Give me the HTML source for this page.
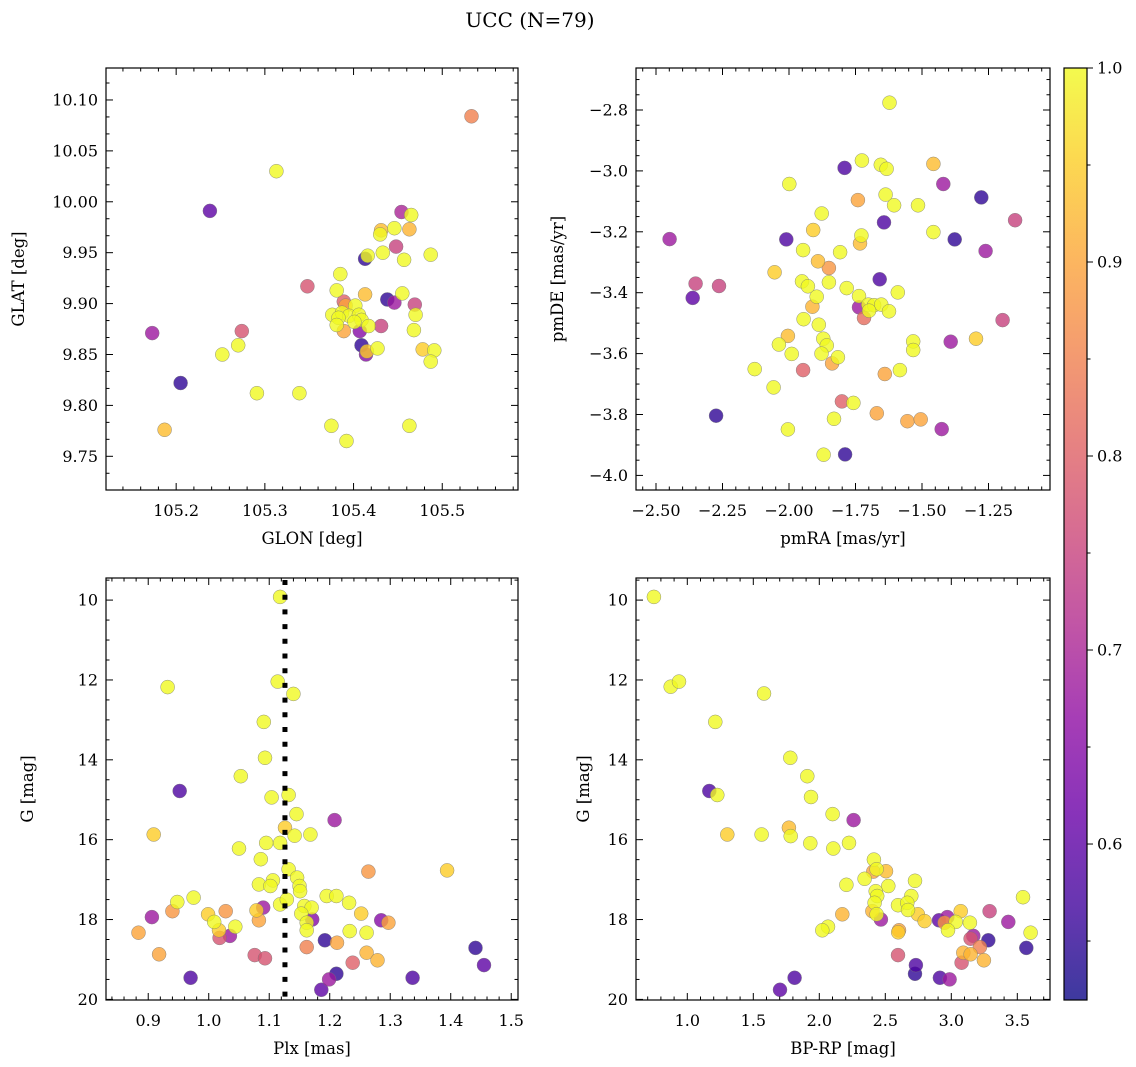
<!DOCTYPE html>
<html><head><meta charset="utf-8">
<style>
html,body{margin:0;padding:0;background:#fff;}
svg{display:block;font-family:"DejaVu Serif","Liberation Serif",serif;}
</style></head>
<body>
<svg id="fig" width="1136" height="1067" viewBox="0 0 1136 1067" xmlns="http://www.w3.org/2000/svg">
<defs>
<linearGradient id="plasma" x1="0" y1="1" x2="0" y2="0">
<stop offset="0" stop-color="#0d0887"/><stop offset="0.1" stop-color="#41049d"/><stop offset="0.2" stop-color="#6a00a8"/><stop offset="0.3" stop-color="#8f0da4"/><stop offset="0.4" stop-color="#b12a90"/><stop offset="0.5" stop-color="#cc4778"/><stop offset="0.6" stop-color="#e16462"/><stop offset="0.7" stop-color="#f2844b"/><stop offset="0.8" stop-color="#fca636"/><stop offset="0.9" stop-color="#fcce25"/><stop offset="1" stop-color="#f0f921"/>
</linearGradient>
</defs>
<text x="530" y="27" font-size="20" text-anchor="middle">UCC (N=79)</text>
</svg>
<script>
// ---- Panel 1: GLON / GLAT ----
const glon1=[105.533,105.313,105.238,105.454,105.465,105.431,105.430,105.446,105.463,105.448,105.413,105.416,105.433,105.457,105.487,105.385,105.348,105.381,105.413,105.438,105.446,105.455,105.469,105.470,105.468,105.431,105.389,105.391,105.402,105.376,105.387,105.395,105.406,105.383,105.409,105.417,105.381,105.389,105.407,105.401,105.409,105.414,105.415,105.427,105.173,105.274,105.270,105.252,105.478,105.491,105.487,105.205,105.291,105.339,105.187,105.375,105.463,105.392];
const glat1=[10.084,10.030,9.991,9.990,9.987,9.972,9.968,9.974,9.973,9.956,9.944,9.947,9.950,9.943,9.948,9.929,9.917,9.913,9.909,9.904,9.901,9.910,9.899,9.889,9.874,9.878,9.902,9.898,9.898,9.889,9.891,9.888,9.889,9.886,9.884,9.878,9.879,9.873,9.873,9.882,9.859,9.850,9.853,9.856,9.871,9.873,9.859,9.850,9.855,9.854,9.843,9.822,9.812,9.812,9.776,9.780,9.780,9.765];
const prob1=[.85,1,.6,.7,1,.93,1,1,.92,.75,.55,1,1,1,1,1,.78,1,.93,.55,.68,1,.75,1,1,.75,.8,.9,1,1,1,1,1,1,1,1,1,.9,.65,1,.55,.65,.95,1,.68,.78,1,1,.95,1,1,.55,1,1,.93,1,1,1];
// ---- Panel 2: pmRA / pmDE ----
const pmra2=[-1.622,-1.726,-1.655,-1.633,-1.791,-1.457,-1.999,-1.420,-1.277,-1.741,-1.637,-1.605,-1.515,-1.877,-1.643,-1.909,-1.728,-1.733,-1.457,-1.377,-1.150,-1.261,-2.449,-2.010,-1.947,-1.808,-1.891,-1.850,-2.054,-2.351,-2.263,-2.362,-1.659,-1.951,-1.929,-1.850,-1.783,-1.896,-1.591,-1.737,-1.737,-1.718,-1.702,-1.680,-1.653,-1.699,-1.624,-1.912,-1.945,-1.888,-1.197,-2.004,-2.038,-1.871,-1.858,-1.878,-1.990,-1.816,-1.838,-1.533,-1.533,-1.392,-1.297,-2.129,-1.947,-1.640,-1.583,-2.058,-1.801,-1.758,-1.670,-1.831,-1.555,-1.505,-1.426,-2.274,-2.004,-1.870,-1.789];
const pmde2=[-2.776,-2.966,-2.980,-2.993,-2.990,-2.977,-3.043,-3.043,-3.087,-3.096,-3.078,-3.113,-3.113,-3.140,-3.169,-3.194,-3.212,-3.238,-3.201,-3.225,-3.162,-3.263,-3.224,-3.225,-3.260,-3.267,-3.297,-3.319,-3.333,-3.370,-3.378,-3.417,-3.356,-3.363,-3.379,-3.366,-3.385,-3.413,-3.399,-3.411,-3.448,-3.483,-3.439,-3.441,-3.439,-3.459,-3.461,-3.446,-3.487,-3.505,-3.490,-3.542,-3.570,-3.551,-3.573,-3.600,-3.601,-3.612,-3.632,-3.560,-3.588,-3.561,-3.551,-3.651,-3.654,-3.667,-3.654,-3.711,-3.757,-3.762,-3.796,-3.814,-3.822,-3.816,-3.848,-3.804,-3.849,-3.932,-3.931];
const prob2=[1,1,1,1,.58,.93,1,.68,.55,.9,1,1,1,1,.58,.95,1,.93,1,.55,.75,.68,.68,.58,1,1,.93,.88,.95,.75,.75,.6,.58,1,1,1,1,1,1,1,.68,.82,1,1,1,1,1,.92,1,1,.75,.93,1,1,1,1,1,1,.9,1,1,.68,.95,1,.8,.9,1,1,.8,1,.9,1,.9,.9,.68,.55,1,1,.55];
// ---- Panel 3: Plx / G ----
const plx3=[1.118,0.932,1.114,1.140,1.091,1.093,1.053,0.952,1.104,1.132,1.145,1.208,0.909,1.126,1.142,1.168,1.050,1.095,1.118,1.086,1.132,1.264,1.394,1.146,1.150,1.151,1.083,1.106,1.102,1.195,1.211,1.232,1.252,0.975,0.948,0.940,0.906,0.999,1.028,1.009,1.017,1.044,1.035,1.018,0.884,0.918,1.079,1.090,1.083,1.118,1.129,1.158,1.170,1.153,1.171,1.162,1.162,1.233,1.261,1.285,1.297,1.192,1.212,1.162,1.261,1.279,1.238,1.076,1.093,0.970,1.211,1.199,1.186,1.337,1.441,1.455];
const gmag3=[9.92,12.18,12.04,12.35,13.05,13.95,14.41,14.78,14.94,14.88,15.36,15.51,15.87,15.70,15.90,15.87,16.22,16.08,16.08,16.49,16.74,16.80,16.77,16.95,17.16,17.29,17.12,17.02,17.16,17.41,17.41,17.58,17.85,17.45,17.56,17.79,17.94,17.87,17.79,18.06,18.27,18.18,18.41,18.46,18.33,18.87,17.77,17.70,18.02,17.62,17.50,17.66,17.70,17.85,18.00,18.08,18.27,18.29,18.33,18.02,18.08,18.52,18.58,18.69,18.83,19.02,19.08,18.89,18.97,19.46,19.36,19.50,19.76,19.46,18.71,19.14];
const prob3=[1,1,1,1,1,1,1,.58,1,1,1,.68,.95,.95,1,1,1,1,1,1,1,.88,.95,1,1,1,1,1,1,1,1,1,.95,1,1,.88,.68,.95,.88,1,.95,1,.68,.78,.9,.9,.95,.68,.9,1,1,1,1,1,.65,1,1,1,1,.65,.9,.55,.9,.85,.92,.92,.8,.78,.78,.58,.55,.68,.6,.58,.55,.6];
const plxLine=1.126;
// ---- Panel 4: BP-RP / G ----
const bprp4=[0.747,0.874,0.937,1.581,1.212,1.780,1.909,1.167,1.227,1.937,2.101,2.260,1.303,1.563,1.770,1.783,1.932,2.106,2.225,2.414,2.409,2.505,2.434,2.725,2.343,2.205,2.523,2.427,2.439,2.419,2.402,2.434,2.467,2.697,2.596,2.667,2.672,2.747,2.798,2.604,2.598,2.174,2.066,2.023,2.907,2.970,2.949,3.071,3.033,3.141,2.975,3.290,3.432,3.543,3.601,3.167,3.146,3.217,3.280,3.091,3.146,3.078,3.247,3.568,2.596,2.732,2.725,2.914,2.987,1.813,1.702];
const gmag4=[9.92,12.17,12.04,12.34,13.05,13.95,14.41,14.78,14.88,14.93,15.36,15.51,15.87,15.87,15.70,15.91,16.09,16.22,16.08,16.50,16.80,16.79,16.74,17.03,16.98,17.13,17.16,17.29,17.41,17.58,17.79,17.87,18.00,17.41,17.64,17.58,17.76,17.87,18.04,18.27,18.32,17.87,18.18,18.27,18.02,17.94,18.08,17.79,18.06,18.08,18.27,17.79,18.06,17.44,18.33,18.41,18.48,18.69,18.52,18.83,18.87,19.08,19.02,18.71,18.89,19.14,19.36,19.46,19.50,19.46,19.76];
const prob4=[1,1,1,1,1,1,1,.58,1,1,1,.68,.95,1,.93,1,1,1,1,1,.9,.93,1,1,1,1,1,1,1,1,.92,1,.68,1,1,1,1,.95,.95,.9,.95,.92,1,1,.6,.68,.88,.95,1,1,1,.75,.68,1,1,.68,.78,.85,.55,.92,.92,.78,.92,.55,.78,.58,.55,.58,.68,.58,.6];
// colorbar
const cbTicks=[0.6,0.7,0.8,0.9,1.0];
const cbMin=0.5196, cbMax=1.0;

const NS='http://www.w3.org/2000/svg';
const svg=document.getElementById('fig');
function el(tag,attrs,parent){const e=document.createElementNS(NS,tag);for(const k in attrs)e.setAttribute(k,attrs[k]);(parent||svg).appendChild(e);return e;}
const stops=[[13,8,135],[65,4,157],[106,0,168],[143,13,164],[177,42,144],[204,71,120],[225,100,98],[242,132,75],[252,166,54],[252,206,37],[240,249,33]];
function plasma(v){let t=(v-cbMin)/(cbMax-cbMin);t=Math.max(0,Math.min(1,t))*10;const i=Math.min(9,Math.floor(t)),f=t-i;const a=stops[i],b=stops[i+1];return 'rgb('+a.map((c,k)=>Math.round(c+(b[k]-c)*f)).join(',')+')';}
function fmt(v,d){return (v<0?'\u2212':'')+Math.abs(v).toFixed(d);}
const TICKFS=16, LABFS=16.5;

function panel(o){
  const g=el('g',{});
  
  
  const sx=v=>o.x0+(v-o.xd[0])/(o.xd[1]-o.xd[0])*(o.x1-o.x0);
  const sy=v=>o.y0+(v-o.yd[0])/(o.yd[1]-o.yd[0])*(o.y1-o.y0);
  const xlo=Math.min(...o.xd),xhi=Math.max(...o.xd),ylo=Math.min(...o.yd),yhi=Math.max(...o.yd);
  const idx=o.xs.map((_,i)=>i).sort((a,b)=>o.cs[a]-o.cs[b]);
  const pg=el('g',{},g);
  for(const i of idx){
    const c=el('circle',{cx:sx(o.xs[i]).toFixed(1),cy:sy(o.ys[i]).toFixed(1),r:7,fill:plasma(o.cs[i]),'fill-opacity':0.8,stroke:'#777','stroke-width':0.5,'stroke-opacity':0.8},pg);
    
    
  }
  if(o.vline!==undefined){
    const l=el('line',{x1:sx(o.vline),x2:sx(o.vline),y1:o.y0+2,y2:o.y1,stroke:'#000','stroke-width':5,'stroke-dasharray':'5,9.7'},g);
    
    
  }
  const fr=el('rect',{x:o.x0,y:o.y0,width:o.x1-o.x0,height:o.y1-o.y0,fill:'none',stroke:'#000','stroke-width':1.2},g);
  
  
  const tg=el('g',{stroke:'#000','stroke-width':1},g);
  function ticksFor(step,lo,hi){const a=[];for(let k=Math.ceil(lo/step-1e-6);k<=Math.floor(hi/step+1e-6);k++)a.push(+(k*step).toFixed(6));return a;}
  const xmaj=ticksFor(o.xmaj,xlo,xhi),xmin=ticksFor(o.xmin,xlo,xhi),ymaj=ticksFor(o.ymaj,ylo,yhi),ymin=ticksFor(o.ymin,ylo,yhi);
  function isMaj(v,arr){return arr.some(m=>Math.abs(m-v)<1e-6);}
  for(const v of xmin){const L=isMaj(v,xmaj)?7:3.5;const x=sx(v);
    el('line',{x1:x,x2:x,y1:o.y1,y2:o.y1-L},tg);el('line',{x1:x,x2:x,y1:o.y0,y2:o.y0+L},tg);}
  for(const v of ymin){const L=isMaj(v,ymaj)?7:3.5;const y=sy(v);
    el('line',{x1:o.x0,x2:o.x0+L,y1:y,y2:y},tg);el('line',{x1:o.x1,x2:o.x1-L,y1:y,y2:y},tg);}
  for(const v of xmaj){const t=el('text',{x:sx(v),y:o.y1+26,'font-size':TICKFS,'text-anchor':'middle'},g);t.textContent=fmt(v,o.xdec);
    
    }
  for(const v of ymaj){const t=el('text',{x:o.x0-8,y:sy(v)+5.5,'font-size':TICKFS,'text-anchor':'end'},g);t.textContent=fmt(v,o.ydec);
    
    }
  const xt=el('text',{x:(o.x0+o.x1)/2,y:o.y1+54,'font-size':LABFS,'text-anchor':'middle'},g);xt.textContent=o.xlab;
  
  
  const yt=el('text',{x:0,y:0,'font-size':LABFS,'text-anchor':'middle',transform:'translate('+o.ylx+','+((o.y0+o.y1)/2)+') rotate(-90)'},g);yt.textContent=o.ylab;
  
  
}

panel({name:'glon-glat-panel',x0:106,x1:518,y0:68,y1:490,xd:[105.1209,105.5854],yd:[10.1314,9.7169],xs:glon1,ys:glat1,cs:prob1,xmaj:0.1,xmin:0.02,ymaj:0.05,ymin:0.05/3,xdec:1,ydec:2,xlab:'GLON [deg]',ylab:'GLAT [deg]',ylx:24});
panel({name:'pm-panel',x0:636,x1:1050,y0:68,y1:490,xd:[-2.5752,-1.0188],yd:[-2.6621,-4.0479],xs:pmra2,ys:pmde2,cs:prob2,xmaj:0.25,xmin:0.05,ymaj:0.2,ymin:0.05,xdec:2,ydec:1,xlab:'pmRA [mas/yr]',ylab:'pmDE [mas/yr]',ylx:563});
panel({name:'plx-g-panel',x0:106,x1:518,y0:578,y1:1000,xd:[0.8302,1.5112],yd:[9.4466,20.015],xs:plx3,ys:gmag3,cs:prob3,xmaj:0.1,xmin:0.02,ymaj:2,ymin:0.5,xdec:1,ydec:0,xlab:'Plx [mas]',ylab:'G [mag]',ylx:33,vline:plxLine});
panel({name:'cmd-panel',x0:636,x1:1050,y0:578,y1:1000,xd:[0.6114,3.7477],yd:[9.4466,20.015],xs:bprp4,ys:gmag4,cs:prob4,xmaj:0.5,xmin:0.1,ymaj:2,ymin:0.5,xdec:1,ydec:0,xlab:'BP-RP [mag]',ylab:'G [mag]',ylx:589});

const cb=el('g',{});


const cbx0=1064,cbx1=1087,cby0=68,cby1=1000;
const cbr=el('rect',{x:cbx0,y:cby0,width:cbx1-cbx0,height:cby1-cby0,fill:'url(#plasma)','fill-opacity':0.8,stroke:'#000','stroke-width':1.2},cb);


const cy=v=>cby1-(v-cbMin)/(cbMax-cbMin)*(cby1-cby0);
for(let k=11;k<=20;k++){const v=k*0.05;if(v<cbMin)continue;const y=cy(v);const maj=cbTicks.some(m=>Math.abs(m-v)<1e-6);
  el('line',{x1:cbx1,x2:cbx1+(maj?6:3.5),y1:y,y2:y,stroke:'#000','stroke-width':1},cb);}
for(const v of cbTicks){const t=el('text',{x:cbx1+10,y:cy(v)+5.5,'font-size':TICKFS},cb);t.textContent=v.toFixed(1);
  
  }
</script>
</body></html>
